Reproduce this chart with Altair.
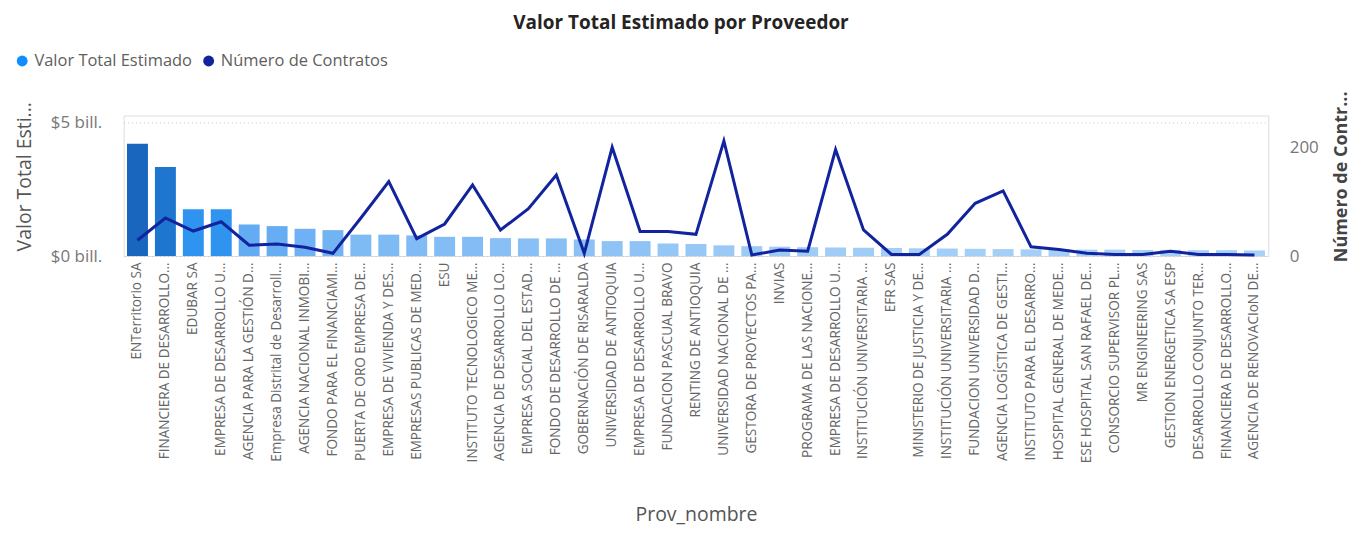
import altair as alt
import pandas as pd
import json

proveedores = [
    "ENTerritorio SA", "FINANCIERA DE DESARROLLO…", "EDUBAR SA", "EMPRESA DE DESARROLLO U…",
    "AGENCIA PARA LA GESTIÓN D…", "Empresa Distrital de Desarroll…", "AGENCIA NACIONAL INMOBI…",
    "FONDO PARA EL FINANCIAMI…", "PUERTA DE ORO EMPRESA DE…", "EMPRESA DE VIVIENDA Y DES…",
    "EMPRESAS PUBLICAS DE MED…", "ESU", "INSTITUTO TECNOLOGICO ME…", "AGENCIA DE DESARROLLO LO…",
    "EMPRESA SOCIAL DEL ESTAD…", "FONDO DE DESARROLLO DE …", "GOBERNACIÓN DE RISARALDA",
    "UNIVERSIDAD DE ANTIOQUIA", "EMPRESA DE DESARROLLO U…", "FUNDACION PASCUAL BRAVO",
    "RENTING DE ANTIOQUIA", "UNIVERSIDAD NACIONAL DE …", "GESTORA DE PROYECTOS PA…",
    "INVIAS", "PROGRAMA DE LAS NACIONE…", "EMPRESA DE DESARROLLO U…",
    "INSTITUCIÓN UNIVERSITARIA …", "EFR SAS", "MINISTERIO DE JUSTICIA Y DE…",
    "INSTITUCIÓN UNIVERSITARIA …", "FUNDACION UNIVERSIDAD D…", "AGENCIA LOGÍSTICA DE GESTI…",
    "INSTITUTO PARA EL DESARRO…", "HOSPITAL GENERAL DE MEDE…", "ESE HOSPITAL SAN RAFAEL DE…",
    "CONSORCIO SUPERVISOR PL…", "MR ENGINEERING SAS", "GESTION ENERGETICA SA ESP",
    "DESARROLLO CONJUNTO TER…", "FINANCIERA DE DESARROLLO…", "AGENCIA DE RENOVACIoN DE…",
]

# Valor Total Estimado (en bill.)
valor_total = [
    4.20, 3.33, 1.75, 1.75, 1.18, 1.12, 1.02, 0.97, 0.80, 0.80,
    0.77, 0.72, 0.72, 0.67, 0.66, 0.66, 0.62, 0.56, 0.56, 0.47,
    0.45, 0.40, 0.37, 0.35, 0.33, 0.32, 0.31, 0.30, 0.29, 0.28,
    0.27, 0.26, 0.25, 0.25, 0.24, 0.24, 0.23, 0.23, 0.22, 0.22, 0.21,
]

# Número de Contratos
num_contratos = [
    29, 70, 46, 63, 20, 22, 16, 5, 70, 137,
    32, 59, 131, 48, 87, 149, 5, 200, 45, 45,
    40, 212, 2, 11, 9, 196, 48, 3, 3, 40,
    97, 120, 17, 12, 5, 3, 3, 9, 3, 3, 2,
]

series = ["Valor Total Estimado", "Número de Contratos"]
series_colors = ["#118DFF", "#12239E"]

df = pd.DataFrame({
    "idx": list(range(len(proveedores))),
    "Prov_nombre": proveedores,
    "valor": valor_total,
    "contratos": num_contratos,
})
legend_df = pd.DataFrame({"serie": series})

FONT = "Open Sans"
label_expr = json.dumps(proveedores, ensure_ascii=False) + "[datum.value]"

x_enc = alt.X(
    "idx:O",
    sort=None,
    scale=alt.Scale(paddingInner=0.25, paddingOuter=0.12),
    axis=alt.Axis(
        title="Prov_nombre", labelExpr=label_expr, labelAngle=270, labelAlign="right",
        labelBaseline="middle", labelFontSize=13.6, labelColor="#666666", labelFont=FONT,
        labelPadding=6, ticks=False, domain=False, labelLimit=300,
        titleFont=FONT, titleFontSize=19.5, titleFontWeight="normal", titleColor="#555555",
        titleY=259, titleBaseline="middle",
    ),
)

bars = alt.Chart(df).mark_bar().encode(
    x=x_enc,
    y=alt.Y(
        "valor:Q",
        scale=alt.Scale(domain=[0, 5.26], nice=False),
        axis=alt.Axis(
            title="Valor Total Esti...", values=[0, 5],
            labelExpr="'$' + datum.value + ' bill.'",
            labelFont=FONT, labelFontSize=17, labelColor="#777777", labelPadding=22,
            ticks=False, domain=False, grid=True, gridColor="#c8c8c8", gridDash=[1, 3],
            gridWidth=1,
            titleFont=FONT, titleFontSize=19.5, titleFontWeight="normal", titleColor="#555555",
            titleAngle=270, titleX=-99, titleY=61, titleAlign="center", titleBaseline="middle",
        ),
    ),
    fill=alt.Fill(
        "valor:Q",
        scale=alt.Scale(domain=[0.2, 1.8, 4.2], range=["#a8d1f7", "#2892f0", "#1866bd"]),
        legend=None,
    ),
)

line = alt.Chart(df).mark_line(strokeWidth=3, color="#12239E").encode(
    x=alt.X("idx:O", sort=None),
    y=alt.Y(
        "contratos:Q",
        scale=alt.Scale(domain=[0, 258.7], nice=False),
        axis=alt.Axis(
            orient="right", title="Número de Contr...", values=[0, 200],
            labelFont=FONT, labelFontSize=17, labelColor="#777777", labelPadding=21,
            ticks=False, domain=False, grid=False,
            titleFont=FONT, titleFontSize=18, titleFontWeight="bold", titleColor="#444444",
            titleAngle=270, titleX=73, titleY=61, titleAlign="center", titleBaseline="middle",
        ),
    ),
)

legend_layer = alt.Chart(legend_df).mark_circle(clip=True).encode(
    x=alt.value(0),
    y=alt.value(-200),
    color=alt.Color(
        "serie:N",
        scale=alt.Scale(domain=series, range=series_colors),
        legend=alt.Legend(
            title=None, orient="none", legendX=-110, legendY=-63, direction="horizontal",
            symbolType="circle", symbolSize=120, symbolOpacity=1,
            labelFont=FONT, labelFontSize=16.5, labelColor="#605e5c", labelLimit=400,
            columnPadding=8, symbolOffset=0,
        ),
    ),
)

chart = alt.layer(bars, line, legend_layer).resolve_scale(y="independent").properties(
    width=1148,
    height=141,
    title=alt.TitleParams(
        "Valor Total Estimado por Proveedor", font=FONT, fontSize=19, fontWeight="bold",
        color="#252423", anchor="middle", dx=-15, offset=20,
    ),
    autosize=alt.AutoSizeParams(type="none"),
    padding={"left": 116, "top": 107, "right": 90, "bottom": 276},
).configure_view(stroke=None).configure(background="white")

chart.save("out.html", embed_options={"renderer": "svg", "actions": False})
